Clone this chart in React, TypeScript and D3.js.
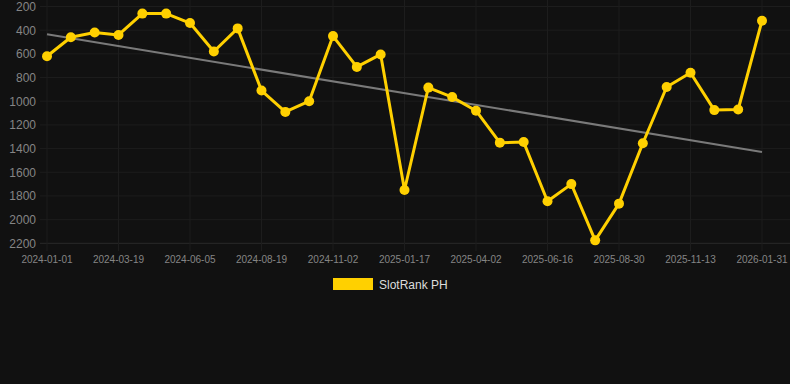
import * as d3 from "d3";
import { useRef, useEffect } from "react";

const dates = [
  "2024-01-01", "2024-01-27", "2024-02-22", "2024-03-19", "2024-04-14", "2024-05-10",
  "2024-06-05", "2024-06-30", "2024-07-25", "2024-08-19", "2024-09-13", "2024-10-08",
  "2024-11-02", "2024-11-27", "2024-12-23", "2025-01-17", "2025-02-11", "2025-03-08",
  "2025-04-02", "2025-04-27", "2025-05-22", "2025-06-16", "2025-07-11", "2025-08-05",
  "2025-08-30", "2025-09-24", "2025-10-19", "2025-11-13", "2025-12-08", "2026-01-04",
  "2026-01-31",
];

const ranks = [
  620, 460, 420, 440, 260, 260, 340, 580, 385, 910, 1090, 1000, 450, 710, 605,
  1750, 885, 965, 1080, 1350, 1345, 1845, 1700, 2175, 1865, 1355, 880, 760, 1075,
  1070, 320,
];

// trend line value at first and last date
const trend = [435, 1428];

const yTicks = [200, 400, 600, 800, 1000, 1200, 1400, 1600, 1800, 2000, 2200];

const seriesName = "SlotRank PH";

export default function App() {
  const chartRef = useRef<SVGSVGElement>(null);
  const width = 790;
  const height = 384;

  useEffect(() => {
    const svg = d3.select(chartRef.current);
    svg.selectAll("*").remove();

    const font = "'Liberation Sans', Arial, Helvetica, sans-serif";

    svg.append("rect").attr("width", width).attr("height", height).attr("fill", "#111111");

    // Scales
    const x = d3.scalePoint<string>().domain(dates).range([47, 762]);
    const y = d3.scaleLinear().domain([200, 2200]).range([6.5, 243.3]);

    const labelDates = dates.filter((d, i) => i % 3 === 0);

    // Grid
    svg
      .append("g")
      .selectAll("line")
      .data(yTicks)
      .join("line")
      .attr("x1", 40)
      .attr("x2", 790)
      .attr("y1", (d) => y(d))
      .attr("y2", (d) => y(d))
      .attr("stroke", (d) => (d === 2200 ? "#2a2a2a" : "#1d1d1d"))
      .attr("stroke-width", 1);

    svg
      .append("g")
      .selectAll("line")
      .data(labelDates)
      .join("line")
      .attr("x1", (d) => x(d)!)
      .attr("x2", (d) => x(d)!)
      .attr("y1", 0)
      .attr("y2", 251)
      .attr("stroke", "#1d1d1d")
      .attr("stroke-width", 1);

    // Y labels
    svg
      .append("g")
      .selectAll("text")
      .data(yTicks)
      .join("text")
      .attr("x", 36)
      .attr("y", (d) => y(d) + 4.5)
      .attr("text-anchor", "end")
      .attr("font-family", font)
      .attr("font-size", 12)
      .attr("fill", "#858585")
      .text((d) => `${d}`);

    // X labels
    svg
      .append("g")
      .selectAll("text")
      .data(labelDates)
      .join("text")
      .attr("x", (d) => x(d)!)
      .attr("y", 263)
      .attr("text-anchor", "middle")
      .attr("font-family", font)
      .attr("font-size", 10)
      .attr("fill", "#858585")
      .text((d) => d);

    // Trend line
    svg
      .append("line")
      .attr("x1", x(dates[0])!)
      .attr("x2", x(dates[dates.length - 1])!)
      .attr("y1", y(trend[0]))
      .attr("y2", y(trend[1]))
      .attr("stroke", "#7a7a7a")
      .attr("stroke-width", 2);

    // Series
    const line = d3
      .line<number>()
      .x((d, i) => x(dates[i])!)
      .y((d) => y(d));

    svg
      .append("path")
      .datum(ranks)
      .attr("d", line)
      .attr("fill", "none")
      .attr("stroke", "#ffd000")
      .attr("stroke-width", 3)
      .attr("stroke-linejoin", "round");

    svg
      .append("g")
      .selectAll("circle")
      .data(ranks)
      .join("circle")
      .attr("cx", (d, i) => x(dates[i])!)
      .attr("cy", (d) => y(d))
      .attr("r", 5)
      .attr("fill", "#ffd000");

    // Legend
    svg
      .append("rect")
      .attr("x", 333)
      .attr("y", 278)
      .attr("width", 40)
      .attr("height", 12)
      .attr("fill", "#ffd000");

    svg
      .append("text")
      .attr("x", 379)
      .attr("y", 289)
      .attr("font-family", font)
      .attr("font-size", 12)
      .attr("fill", "#dddddd")
      .text(seriesName);
  }, []);

  return (
    <svg
      ref={chartRef}
      width={width}
      height={height}
      viewBox={`0 0 ${width} ${height}`}
      style={{ position: "absolute", left: 0, top: 0, display: "block" }}
    />
  );
}
